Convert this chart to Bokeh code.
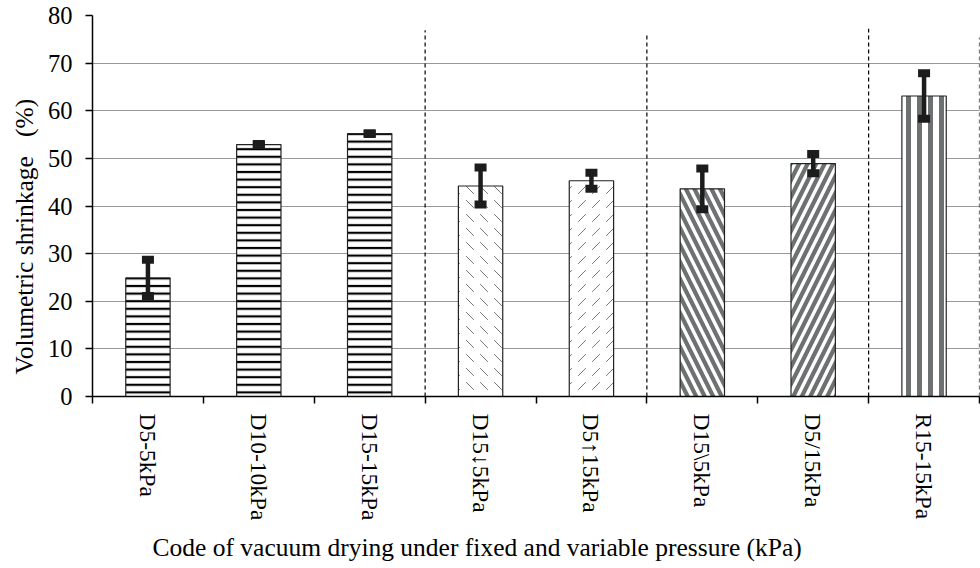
import numpy as np
from bokeh.plotting import figure
from bokeh.models import ColumnDataSource, FixedTicker, Range1d, Title
from bokeh.embed import file_html
from bokeh.resources import INLINE

# ---- data ----
categories = ["D5-5kPa", "D10-10kPa", "D15-15kPa", "D15\u21935kPa",
              "D5\u219115kPa", "D15\\5kPa", "D5/15kPa", "R15-15kPa"]
shrinkage = [24.9, 52.9, 55.2, 44.2, 45.3, 43.6, 48.9, 63.1]
errors = [3.8, 0.1, 0.1, 3.9, 1.7, 4.3, 2.0, 4.8]
group_sizes = [3, 2, 2, 1]
separator_tops = [76.9, 76.2, 77.2, 75.4]
y_ticks = [0, 10, 20, 30, 40, 50, 60, 70, 80]
x_title = "Code of vacuum drying under fixed and variable pressure (kPa)"
y_title = "Volumetric shrinkage\u00a0\u00a0\u00a0(%)"

# ---- styles ----
GREY = "#6e7171"
hatch_pattern = ["horizontal_line"] * 3 + ["left_diagonal_dash", "right_diagonal_dash",
                                           "left_diagonal_line", "right_diagonal_line", "vertical_line"]
hatch_color = ["black"] * 3 + ["#777777", "#777777", GREY, GREY, GREY]
hatch_weight = [2.2] * 3 + [1.0, 1.0, 4.2, 4.2, 5.0]
hatch_scale = [7.6] * 3 + [14, 14, 17, 17, 11]

n = len(categories)
xc = np.arange(n) + 0.5
vals = np.array(shrinkage)
errs = np.array(errors)

src = ColumnDataSource(dict(
    x=xc, top=vals, lo=vals - errs, hi=vals + errs,
    hp=hatch_pattern, hc=hatch_color, hw=hatch_weight, hs=hatch_scale,
))

FONT = "Liberation Serif"

p = figure(width=980, height=568, x_range=Range1d(0, n), y_range=Range1d(0, 80),
           output_backend="svg", toolbar_location=None,
           min_border_left=92, min_border_right=1, min_border_top=15, min_border_bottom=171)
p.outline_line_color = None
p.background_fill_color = "white"

# grid
p.xgrid.grid_line_color = None
p.ygrid.grid_line_color = "#333333"
p.ygrid.grid_line_dash = "1 1"
p.ygrid.grid_line_width = 1

# y axis
p.yaxis.ticker = FixedTicker(ticks=y_ticks, minor_ticks=[])
p.yaxis.axis_line_color = "black"
p.yaxis.axis_line_width = 1.5
p.yaxis.major_tick_line_color = "black"
p.yaxis.major_tick_line_width = 1.5
p.yaxis.major_tick_out = 7
p.yaxis.major_tick_in = 0
p.yaxis.major_label_standoff = 13
p.yaxis.major_label_text_font = FONT
p.yaxis.major_label_text_font_size = "24.5px"
p.yaxis.major_label_text_color = "black"

# x axis: labels at category centres, tick marks at boundaries
p.xaxis.ticker = FixedTicker(ticks=list(xc), minor_ticks=list(range(n + 1)))
p.xaxis.major_label_overrides = {float(v): c for v, c in zip(xc, categories)}
p.xaxis.major_label_orientation = "vertical"
p.xaxis.axis_line_color = "black"
p.xaxis.axis_line_width = 1.5
p.xaxis.major_tick_line_color = None
p.xaxis.major_tick_out = 0
p.xaxis.major_tick_in = 0
p.xaxis.minor_tick_line_color = "black"
p.xaxis.minor_tick_line_width = 1.5
p.xaxis.minor_tick_out = 7
p.xaxis.minor_tick_in = 0
p.xaxis.major_label_standoff = 10
p.xaxis.major_label_text_font = FONT
p.xaxis.major_label_text_font_size = "23.5px"
p.xaxis.major_label_text_color = "black"

# axis titles (as titles so that they can be offset like the reference)
p.add_layout(Title(text=x_title, align="left", offset=60, standoff=14,
                   text_font=FONT, text_font_size="25.5px", text_font_style="normal",
                   text_color="black"), "below")
p.add_layout(Title(text=y_title, align="left", offset=22, standoff=12,
                   text_font=FONT, text_font_size="25.5px", text_font_style="normal",
                   text_color="black"), "left")

# group separators
bounds = np.cumsum(group_sizes)
p.segment(x0=bounds, y0=[0] * len(bounds), x1=bounds, y1=separator_tops,
          line_color="black", line_dash="4 3", line_width=1.2)

# bars
p.vbar(x="x", top="top", width=0.4, bottom=0, source=src,
       fill_color="white", line_color="#222222", line_width=1.2,
       hatch_pattern="hp", hatch_color="hc", hatch_weight="hw", hatch_scale="hs")

# error bars
p.segment(x0="x", y0="lo", x1="x", y1="hi", source=src, line_color="#1c1c1c", line_width=4.5)
p.rect(x="x", y="hi", width=12, height=8, width_units="screen", height_units="screen",
       source=src, fill_color="#1c1c1c", line_color=None)
p.rect(x="x", y="lo", width=12, height=8, width_units="screen", height_units="screen",
       source=src, fill_color="#1c1c1c", line_color=None)

open("out.html", "w").write(file_html(p, INLINE))
